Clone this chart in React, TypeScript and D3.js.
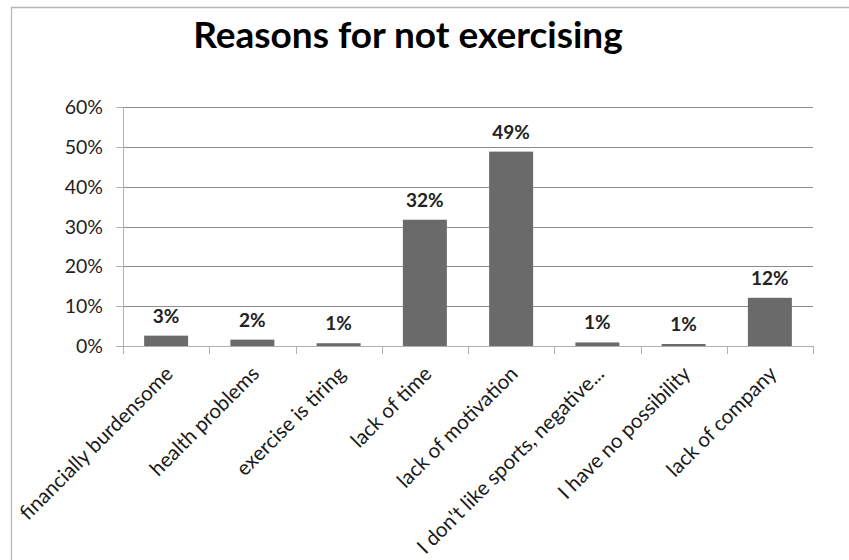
import React from "react";
import * as d3 from "d3";

const title = "Reasons for not exercising";
const categories = [
  "financially burdensome",
  "health problems",
  "exercise is tiring",
  "lack of time",
  "lack of motivation",
  "I don't like sports, negative...",
  "I have no possibility",
  "lack of company",
];
const values = [0.026, 0.016, 0.007, 0.317, 0.488, 0.009, 0.005, 0.121];
const yTicks = [0, 0.1, 0.2, 0.3, 0.4, 0.5, 0.6];

const W = 849;
const H = 560;
const plot = { left: 123, right: 813, top: 107, bottom: 346 };
const FONT = "Lato, 'Open Sans', sans-serif";

export default function App() {
  const x = d3
    .scaleBand<string>()
    .domain(categories)
    .range([plot.left, plot.right])
    .paddingInner(0.49)
    .paddingOuter(0.245);
  const band = d3.scaleBand<string>().domain(categories).range([plot.left, plot.right]);
  const y = d3.scaleLinear().domain([0, 0.6]).range([plot.bottom, plot.top]);
  const pct = d3.format(".0%");
  const boundaries = d3.range(categories.length + 1).map((i) => plot.left + i * band.step());

  return (
    <svg
      width={W}
      height={H}
      style={{ position: "absolute", left: 0, top: 0, background: "#fff" }}
      fontFamily={FONT}
    >
      <rect x={0} y={0} width={W} height={H} fill="#fff" />
      {/* frame */}
      <path d={`M11.5,${H} V7.5 H${W}`} fill="none" stroke="#b8b8b8" strokeWidth={1.3} />

      <text x={408} y={48} textAnchor="middle" fontSize={37} fontWeight={700} fill="#000">
        {title}
      </text>

      {/* gridlines */}
      {yTicks.map((t) => (
        <line
          key={"g" + t}
          x1={plot.left}
          x2={plot.right}
          y1={Math.round(y(t)) + 0.5}
          y2={Math.round(y(t)) + 0.5}
          stroke={t === 0 ? "#b0b0b0" : "#8c8c8c"}
          strokeWidth={1}
        />
      ))}
      {/* y axis */}
      <line x1={plot.left + 0.5} x2={plot.left + 0.5} y1={plot.top} y2={plot.bottom + 1} stroke="#b0b0b0" />
      {yTicks.map((t) => (
        <g key={"yt" + t}>
          <line
            x1={plot.left - 7}
            x2={plot.left}
            y1={Math.round(y(t)) + 0.5}
            y2={Math.round(y(t)) + 0.5}
            stroke="#b0b0b0"
          />
          <text x={103} y={y(t)} dy="0.36em" textAnchor="end" fontSize={19.5} fill="#222">
            {pct(t)}
          </text>
        </g>
      ))}
      {/* x ticks */}
      {boundaries.map((b, i) => (
        <line
          key={"xt" + i}
          x1={Math.round(b) + 0.5}
          x2={Math.round(b) + 0.5}
          y1={plot.bottom}
          y2={plot.bottom + 8}
          stroke="#b0b0b0"
        />
      ))}

      {/* bars */}
      {categories.map((c, i) => (
        <rect
          key={"b" + c}
          x={x(c)}
          y={y(values[i])}
          width={x.bandwidth()}
          height={plot.bottom - y(values[i])}
          fill="#6a6a6a"
        />
      ))}
      {/* data labels */}
      {categories.map((c, i) => (
        <text
          key={"l" + c}
          x={(x(c) as number) + x.bandwidth() / 2}
          y={y(values[i]) - 13}
          textAnchor="middle"
          fontSize={19}
          fontWeight={700}
          fill="#222"
        >
          {pct(values[i])}
        </text>
      ))}

      {/* category labels */}
      {categories.map((c) => {
        const cx = (band(c) as number) + band.bandwidth() / 2;
        return (
          <text
            key={"c" + c}
            transform={`translate(${cx + 3},${plot.bottom + 24}) rotate(-45)`}
            textAnchor="end"
            dy="0.35em"
            fontSize={20.5}
            fill="#1a1a1a"
          >
            {c}
          </text>
        );
      })}
    </svg>
  );
}
